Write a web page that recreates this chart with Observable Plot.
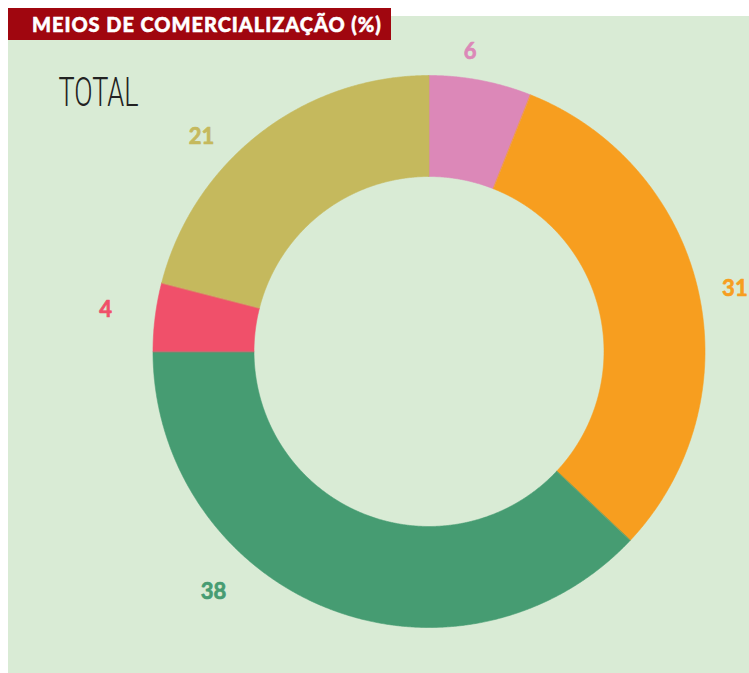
<!DOCTYPE html>
<html><head><meta charset="utf-8">
<script src="https://cdn.jsdelivr.net/npm/d3@7"></script>
<script src="https://cdn.jsdelivr.net/npm/@observablehq/plot@0.6"></script>
<style>
html,body{margin:0;padding:0;background:#fff;width:749px;height:673px;overflow:hidden;}
#panel{position:absolute;left:8px;top:16px;width:741px;height:657px;background:#d9ebd5;}
#title{position:absolute;left:8px;top:8px;width:383px;height:32px;background:#a0060f;color:#fff;
 font-family:Lato,"Open Sans",sans-serif;font-weight:900;font-size:20px;line-height:33px;padding-left:24px;box-sizing:border-box;white-space:nowrap;z-index:2;letter-spacing:0.95px;-webkit-text-stroke:0.5px #fff}
</style></head>
<body>
<div id="panel"></div>
<div id="title">MEIOS DE COMERCIALIZAÇÃO (%)</div>
<script>
// ---- data ----
const categories = ["Meio 1", "Meio 2", "Meio 3", "Meio 4", "Meio 5"];
const values = [6, 31, 38, 4, 21];
const labels = ["6", "31", "38", "4", "21"];
const colors = ["#dc88b8", "#f79e1f", "#469c72", "#f0506a", "#c5b95d"];
const chartLabel = "TOTAL";

// ---- layout ----
const W = 741, H = 657;
const cx = 420.5, cy = 335, R = 276;   // pixel center & outer radius in SVG
const innerRatio = 175 / 276;
const labelAngleShift = [-3.0, 1.1, 20.3, 0.1, -8.9]; // degrees
const labelRadius = [1.097, 1.131, 1.169, 1.181, 1.132];

const pie = d3.pie().sort(null).value(d => d.value).startAngle(0).endAngle(2 * Math.PI);
const slices = pie(categories.map((c, i) => ({category: c, value: values[i], label: labels[i], i})));

const ringPts = [];
const step = Math.PI / 720;
for (const s of slices) {
  const n = Math.max(2, Math.ceil((s.endAngle - s.startAngle) / step));
  for (let k = 0; k <= n; k++) {
    const a = s.startAngle + (s.endAngle - s.startAngle) * k / n;
    ringPts.push({category: s.data.category, x: Math.sin(a), y: Math.cos(a)});
  }
  for (let k = n; k >= 0; k--) {
    const a = s.startAngle + (s.endAngle - s.startAngle) * k / n;
    ringPts.push({category: s.data.category, x: innerRatio * Math.sin(a), y: innerRatio * Math.cos(a)});
  }
}

const labelPts = slices.map(s => {
  const i = s.data.i;
  const a = (s.startAngle + s.endAngle) / 2 + labelAngleShift[i] * Math.PI / 180;
  const r = labelRadius[i];
  return {category: s.data.category, label: s.data.label, x: r * Math.sin(a), y: r * Math.cos(a)};
});

const chart = Plot.plot({
  width: W, height: H, margin: 0,
  style: {background: "transparent", overflow: "visible"},
  x: {domain: [-cx / R, (W - cx) / R], axis: null},
  y: {domain: [-(H - cy) / R, cy / R], axis: null},
  color: {domain: categories, range: colors},
  marks: [
    Plot.line(ringPts, {x: "x", y: "y", z: "category", fill: "category", stroke: "category", strokeWidth: 0.6, curve: "linear-closed"}),
    Plot.text(labelPts, {x: "x", y: "y", text: "label", fill: "category", stroke: "category", strokeWidth: 0.7,
      fontSize: 22, fontWeight: 700,
      fontFamily: "Lato, 'Open Sans', sans-serif", lineAnchor: "middle", textAnchor: "middle"}),
    Plot.text([chartLabel], {frameAnchor: "top-left", dx: 50, dy: 61, textAnchor: "start", lineAnchor: "top",
      fontSize: 40, fontWeight: 300, fill: "#222", fontFamily: "Roboto, sans-serif", className: "total-label"})
  ]
});
chart.style.position = "absolute";
chart.style.left = "8px";
chart.style.top = "16px";
document.body.appendChild(chart);
chart.querySelectorAll(".total-label text").forEach(t => {
  t.setAttribute("textLength", "80");
  t.setAttribute("lengthAdjust", "spacingAndGlyphs");
});
</script>
</body></html>
